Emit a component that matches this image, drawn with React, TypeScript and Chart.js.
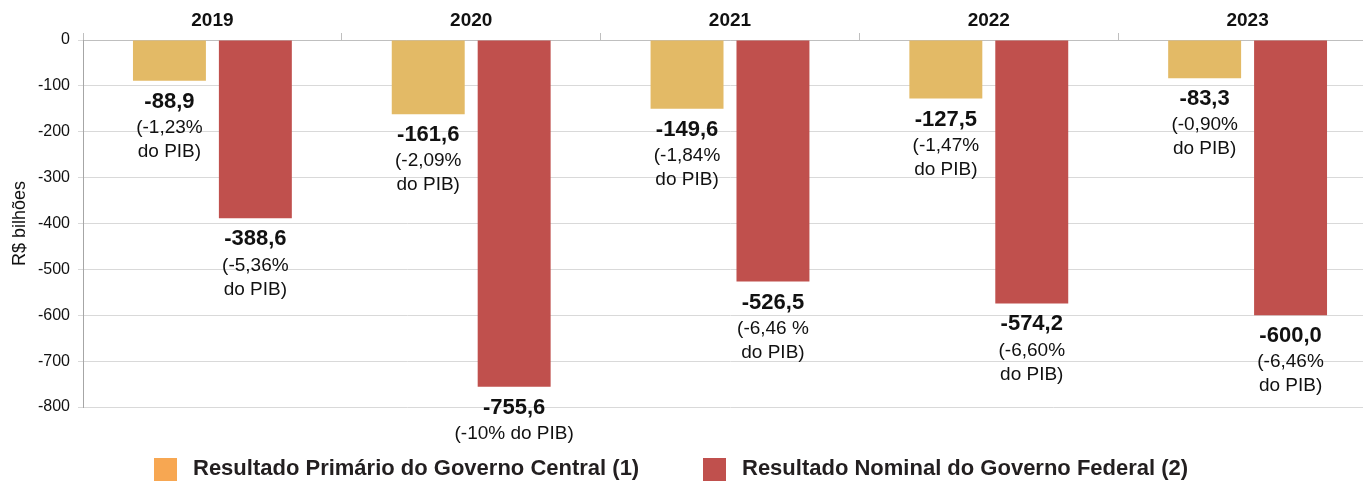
import React, { useEffect, useRef } from "react";
import { Chart, registerables } from "chart.js";

Chart.register(...registerables);

const years = ["2019", "2020", "2021", "2022", "2023"];
const primario = [-88.9, -161.6, -149.6, -127.5, -83.3];
const nominal = [-388.6, -755.6, -526.5, -574.2, -600.0];
const primarioPct = [
  ["(-1,23%", "do PIB)"],
  ["(-2,09%", "do PIB)"],
  ["(-1,84%", "do PIB)"],
  ["(-1,47%", "do PIB)"],
  ["(-0,90%", "do PIB)"],
];
const nominalPct = [
  ["(-5,36%", "do PIB)"],
  ["(-10% do PIB)"],
  ["(-6,46 %", "do PIB)"],
  ["(-6,60%", "do PIB)"],
  ["(-6,46%", "do PIB)"],
];
const seriesNames = [
  "Resultado Primário do Governo Central (1)",
  "Resultado Nominal do Governo Federal (2)",
];
const barColors = ["#E3BA66", "#C0504D"];
const legendColors = ["#F7A752", "#C0504D"];

const FONT = "'Liberation Sans', Arial, sans-serif";
const TEXT = "#111111";

const labelPlugin = {
  id: "barLabels",
  afterDatasetsDraw(chart: any) {
    const ctx = chart.ctx;
    const pcts = [primarioPct, nominalPct];
    ctx.save();
    ctx.fillStyle = TEXT;
    ctx.textAlign = "center";
    ctx.textBaseline = "middle";
    chart.data.datasets.forEach((ds: any, di: number) => {
      const meta = chart.getDatasetMeta(di);
      meta.data.forEach((el: any, i: number) => {
        const v = ds.data[i] as number;
        const x = el.x;
        const y = el.y;
        ctx.font = `bold 22px ${FONT}`;
        ctx.fillText(v.toFixed(1).replace(".", ","), x, y + 21);
        ctx.font = `19px ${FONT}`;
        pcts[di][i].forEach((line: string, li: number) => {
          ctx.fillText(line, x, y + 47 + li * 24);
        });
      });
    });
    ctx.restore();
  },
};

const legendPlugin = {
  id: "customLegend",
  afterDraw(chart: any) {
    const ctx = chart.ctx;
    ctx.save();
    const items = [
      { x: 154, text: seriesNames[0], color: legendColors[0] },
      { x: 703, text: seriesNames[1], color: legendColors[1] },
    ];
    items.forEach((it) => {
      ctx.fillStyle = it.color;
      ctx.fillRect(it.x, 458, 23, 23);
      ctx.fillStyle = "#231f20";
      ctx.font = `bold 22px ${FONT}`;
      ctx.textAlign = "left";
      ctx.textBaseline = "middle";
      ctx.fillText(it.text, it.x + 39, 469);
    });
    ctx.restore();
  },
};

export default function App() {
  const ref = useRef<HTMLCanvasElement | null>(null);
  useEffect(() => {
    if (!ref.current) return;
    const chart = new Chart(ref.current, {
      type: "bar",
      data: {
        labels: years,
        datasets: [
          {
            label: seriesNames[0],
            data: primario,
            backgroundColor: barColors[0],
            categoryPercentage: 0.664,
            barPercentage: 0.849,
          },
          {
            label: seriesNames[1],
            data: nominal,
            backgroundColor: barColors[1],
            categoryPercentage: 0.664,
            barPercentage: 0.849,
          },
        ],
      },
      options: {
        animation: false,
        responsive: false,
        layout: { padding: { top: 0, right: 1, bottom: 74, left: 0 } },
        plugins: {
          legend: { display: false },
          tooltip: { enabled: false },
        },
        scales: {
          x: {
            position: "top",
            grid: {
              display: true,
              drawOnChartArea: false,
              tickLength: 7,
              color: "#bfbfbf",
            },
            border: { display: true, color: "#bfbfbf" },
            ticks: {
              color: TEXT,
              font: { family: FONT, size: 19, weight: "bold" },
              padding: 1,
            },
            afterFit: (s: any) => {
              s.height = 40;
            },
          },
          y: {
            min: -800,
            max: 0,
            ticks: {
              stepSize: 100,
              color: TEXT,
              font: { family: FONT, size: 16 },
              padding: 8,
            },
            grid: { color: "#d9d9d9", tickLength: 5 },
            border: { display: true, color: "#a6a6a6" },
            title: {
              display: true,
              text: "R$ bilhões",
              color: TEXT,
              font: { family: FONT, size: 18 },
              padding: { top: 9, bottom: 0 },
            },
            afterFit: (s: any) => {
              s.width = 83;
            },
          },
        },
      },
      plugins: [labelPlugin, legendPlugin],
    });
    return () => chart.destroy();
  }, []);
  return (
    <div
      style={{
        position: "fixed",
        left: 0,
        top: 0,
        width: 1363,
        height: 481,
        overflow: "hidden",
        background: "#fff",
      }}
    >
      <canvas
        ref={ref}
        width={1378}
        height={481}
        style={{ width: 1378, height: 481, display: "block" }}
      />
    </div>
  );
}
